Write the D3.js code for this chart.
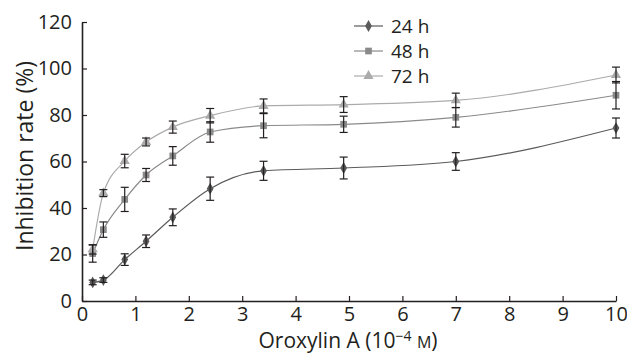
<!doctype html>
<html>
<head>
<style>
  body { margin: 0; background: #fff; }
  svg text { font-family: "Open Sans", "Noto Sans", sans-serif; fill: #231f20; }
</style>
<script src="https://d3js.org/d3.v7.min.js"></script>
</head>
<body>
<svg width="627" height="354"></svg>
<script>
var doses = [0.2, 0.4, 0.8, 1.2, 1.7, 2.4, 3.4, 4.9, 7.0, 10];
var series = ["24 h", "48 h", "72 h"];
var mean24 = [8.0, 9.0, 17.8, 25.7, 36.0, 48.3, 56.0, 57.2, 60.0, 74.4];
var err24  = [1.0, 1.0, 2.5, 2.7, 3.6, 5.0, 4.1, 4.7, 3.8, 4.3];
var mean48 = [20.4, 30.7, 43.7, 54.2, 62.4, 72.7, 75.4, 76.0, 79.0, 88.5];
var err48  = [3.7, 3.3, 5.2, 2.8, 4.0, 4.4, 5.2, 3.5, 4.2, 5.9];
var mean72 = [22.2, 46.4, 60.2, 68.4, 74.8, 79.7, 83.9, 84.5, 86.3, 97.2];
var err72  = [2.0, 1.5, 2.9, 1.7, 2.6, 3.1, 3.0, 3.4, 3.1, 3.4];
var xTicks = [0, 1, 2, 3, 4, 5, 6, 7, 8, 9, 10];
var yTicks = [0, 20, 40, 60, 80, 100, 120];

var svg = d3.select("svg");
var x = d3.scaleLinear().domain([0, 10]).range([82, 616]);
var y = d3.scaleLinear().domain([0, 120]).range([301, 22]);

var sets = [
  { name: series[0], mean: mean24, err: err24, color: "#5a5a5a", sym: d3.symbolDiamond, size: 40 },
  { name: series[1], mean: mean48, err: err48, color: "#8a8a8a", sym: d3.symbolSquare, size: 45 },
  { name: series[2], mean: mean72, err: err72, color: "#ababab", sym: d3.symbolTriangle, size: 45 }
];

// axes
var xAxis = svg.append("g")
  .attr("transform", "translate(0," + y(0) + ")")
  .call(d3.axisBottom(x).tickValues(xTicks).tickSizeInner(-5).tickSizeOuter(0).tickPadding(6));
var yAxis = svg.append("g")
  .attr("transform", "translate(" + x(0) + ",0)")
  .call(d3.axisLeft(y).tickValues(yTicks).tickSizeInner(-5).tickSizeOuter(0).tickPadding(10));
[xAxis, yAxis].forEach(function(a) {
  a.attr("font-size", null).attr("font-family", null);
  a.select(".domain").attr("stroke", "#231f20").attr("stroke-width", 1.6);
  a.selectAll(".tick line").attr("stroke", "#231f20").attr("stroke-width", 1.2);
  a.selectAll(".tick text").style("font-size", "20px").attr("fill", "#231f20");
});
xAxis.selectAll(".tick text").attr("dy", "0.71em");

// lines
var line = d3.line()
  .x(function(d, i) { return x(doses[i]); })
  .y(function(d) { return y(d); })
  .curve(d3.curveMonotoneX);

sets.forEach(function(s) {
  svg.append("path")
    .datum(s.mean)
    .attr("fill", "none")
    .attr("stroke", s.color)
    .attr("stroke-width", 1.2)
    .attr("d", line);
});

// markers
sets.forEach(function(s) {
  svg.append("g").selectAll("path")
    .data(s.mean)
    .enter().append("path")
    .attr("d", d3.symbol().type(s.sym).size(s.size))
    .attr("transform", function(d, i) { return "translate(" + x(doses[i]) + "," + y(d) + ")"; })
    .attr("fill", s.color);
});

// error bars
sets.forEach(function(s) {
  var g = svg.append("g").attr("stroke", "#231f20").attr("stroke-width", 1.2);
  s.mean.forEach(function(m, i) {
    var cx = x(doses[i]), t = y(m + s.err[i]), b = y(m - s.err[i]);
    g.append("line").attr("x1", cx).attr("x2", cx).attr("y1", t).attr("y2", b);
    g.append("line").attr("x1", cx - 4).attr("x2", cx + 4).attr("y1", t).attr("y2", t);
    g.append("line").attr("x1", cx - 4).attr("x2", cx + 4).attr("y1", b).attr("y2", b);
  });
});

// legend
var leg = svg.append("g");
sets.forEach(function(s, i) {
  var ly = 26 + i * 25;
  leg.append("line").attr("x1", 354).attr("x2", 383).attr("y1", ly).attr("y2", ly)
    .attr("stroke", s.color).attr("stroke-width", 1.2);
  leg.append("path").attr("d", d3.symbol().type(s.sym).size(s.size))
    .attr("transform", "translate(368.5," + ly + ")").attr("fill", s.color);
  leg.append("text").attr("x", 391).attr("y", ly).attr("dy", "0.35em")
    .style("font-size", "19px").text(s.name);
});

// axis titles
svg.append("text")
  .attr("transform", "translate(33,156) rotate(-90)")
  .attr("text-anchor", "middle")
  .style("font-size", "23px")
  .text("Inhibition rate (%)");

var xt = svg.append("text")
  .attr("x", 348).attr("y", 348)
  .attr("text-anchor", "middle")
  .style("font-size", "21px");
xt.append("tspan").text("Oroxylin A (10");
xt.append("tspan").style("font-size", "14px").attr("dy", -7).text("\u22124");
xt.append("tspan").attr("dy", 7).text(" ");
xt.append("tspan").style("font-size", "16px").text("M");
xt.append("tspan").text(")");
</script>
</body>
</html>
